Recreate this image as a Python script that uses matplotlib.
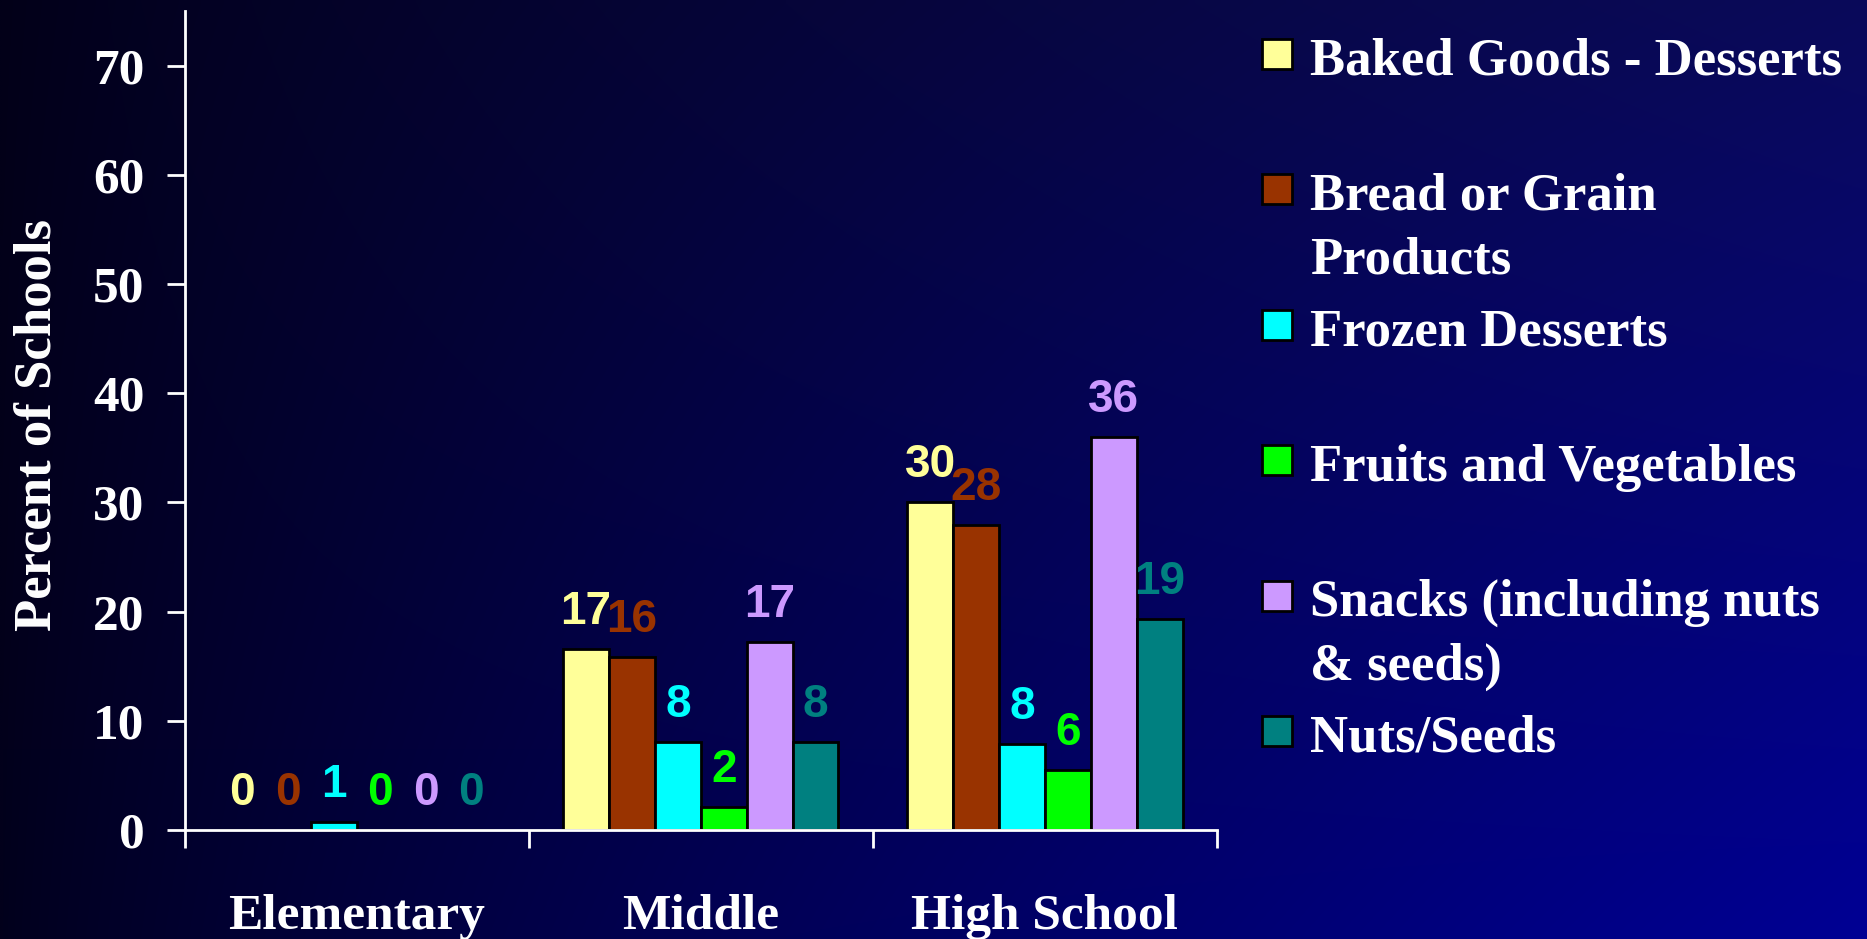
import numpy as np
import matplotlib
matplotlib.use("Agg")
import matplotlib.pyplot as plt
from matplotlib.patches import Rectangle

# ---------------- data ----------------
categories = ["Elementary", "Middle", "High School"]
series_names = ["Baked Goods - Desserts", "Bread or Grain\nProducts", "Frozen Desserts",
                "Fruits and Vegetables", "Snacks (including nuts\n& seeds)", "Nuts/Seeds"]
series_colors = ["#FFFF99", "#993300", "#00FFFF", "#00FF00", "#CC99FF", "#008080"]

baked = [0.0, 16.6, 30.0]
bread = [0.0, 15.8, 27.9]
frozen = [0.7, 8.1, 7.9]
fruits = [0.0, 2.1, 5.5]
snacks = [0.0, 17.2, 36.0]
nuts = [0.0, 8.1, 19.3]

baked_lbl = ["0", "17", "30"]
bread_lbl = ["0", "16", "28"]
frozen_lbl = ["1", "8", "8"]
fruits_lbl = ["0", "2", "6"]
snacks_lbl = ["0", "17", "36"]
nuts_lbl = ["0", "8", "19"]

yticks = [0, 10, 20, 30, 40, 50, 60, 70]
y_label = "Percent of Schools"

series_values = [baked, bread, frozen, fruits, snacks, nuts]
series_labels = [baked_lbl, bread_lbl, frozen_lbl, fruits_lbl, snacks_lbl, nuts_lbl]

# ---------------- figure ----------------
W, H = 1867, 939
fig = plt.figure(figsize=(W / 100, H / 100), dpi=100)

# background gradient
nx, ny = 300, 150
u = (np.linspace(0, 1, nx) ** 0.8)[None, :, None]
v = np.linspace(0, 1, ny)[:, None, None]
TL = np.array([2, 0, 24]) / 255
TR = np.array([10, 10, 90]) / 255
BL = np.array([2, 0, 28]) / 255
BR = np.array([0, 0, 148]) / 255
grad = (TL * (1 - u) * (1 - v) + TR * u * (1 - v) + BL * (1 - u) * v + BR * u * v)
bg = fig.add_axes([0, 0, 1, 1], zorder=-10)
bg.imshow(grad, aspect="auto", extent=[0, 1, 0, 1], origin="upper", interpolation="bilinear")
bg.set_axis_off()

serif = ["Liberation Serif", "DejaVu Serif"]
narrow = ["Liberation Sans Narrow", "Liberation Sans", "DejaVu Sans"]

left, right = 184.6 / W, 1217 / W
bottom, top = (H - 830) / H, (H - 11) / H
ax = fig.add_axes([left, bottom, right - left, top - bottom])
ax.set_facecolor("none")

n = len(series_values)
bw = 0.8 / n
x = np.arange(len(categories))
for i, (vals, lbls, col) in enumerate(zip(series_values, series_labels, series_colors)):
    pos = x - 0.4 + bw * (i + 0.5)
    ax.bar(pos, vals, width=bw, color=col, edgecolor="black", linewidth=2, zorder=2)
    for px, val, lb in zip(pos, vals, lbls):
        ax.annotate(lb, (px, val), xytext=(0, 18), textcoords="offset points",
                    ha="center", va="baseline", color=col, fontsize=33,
                    fontweight="bold", family=narrow, zorder=4)

ax.set_xlim(-0.5, len(categories) - 0.5)
ax.set_ylim(0, 75)
for s in ["top", "right"]:
    ax.spines[s].set_visible(False)
for s in ["left", "bottom"]:
    ax.spines[s].set_color("white")
    ax.spines[s].set_linewidth(2)
    ax.spines[s].set_zorder(3)

ax.set_yticks(yticks)
ax.set_yticklabels([str(t) for t in yticks])
ax.tick_params(axis="y", colors="white", length=13, width=2, pad=16, labelsize=37)
for t in ax.get_yticklabels():
    t.set_family(serif)
    t.set_fontweight("bold")

ax.set_xticks(np.arange(len(categories) + 1) - 0.5)
ax.set_xticklabels([])
ax.tick_params(axis="x", which="major", colors="white", length=13, width=2)
ax.set_xticks(x, minor=True)
ax.set_xticklabels(categories, minor=True)
ax.tick_params(axis="x", which="minor", length=0, pad=46, labelsize=37, labelcolor="white")
for t in ax.get_xticklabels(minor=True):
    t.set_family(serif)
    t.set_fontweight("bold")

fig.text(37.5 / W, 1 - 425 / H, y_label, rotation=90, ha="center", va="center",
         color="white", fontsize=38, fontweight="bold", family=serif)

# legend (manual)
sq = 30
sq_x = 1262
txt_x = 1310
y0, dy = 53.6, 135.5
line_gap = 64
for i, (name, col) in enumerate(zip(series_names, series_colors)):
    cy = y0 + dy * i
    fig.add_artist(Rectangle((sq_x / W, 1 - (cy + sq / 2) / H), sq / W, sq / H,
                             transform=fig.transFigure, facecolor=col,
                             edgecolor="black", linewidth=2))
    for k, line in enumerate(name.split("\n")):
        fig.text(txt_x / W, 1 - (cy + 2 + k * line_gap) / H, line, ha="left",
                 va="center_baseline", color="white", fontsize=38,
                 fontweight="bold", family=serif)

fig.savefig("out.png", dpi=100)
